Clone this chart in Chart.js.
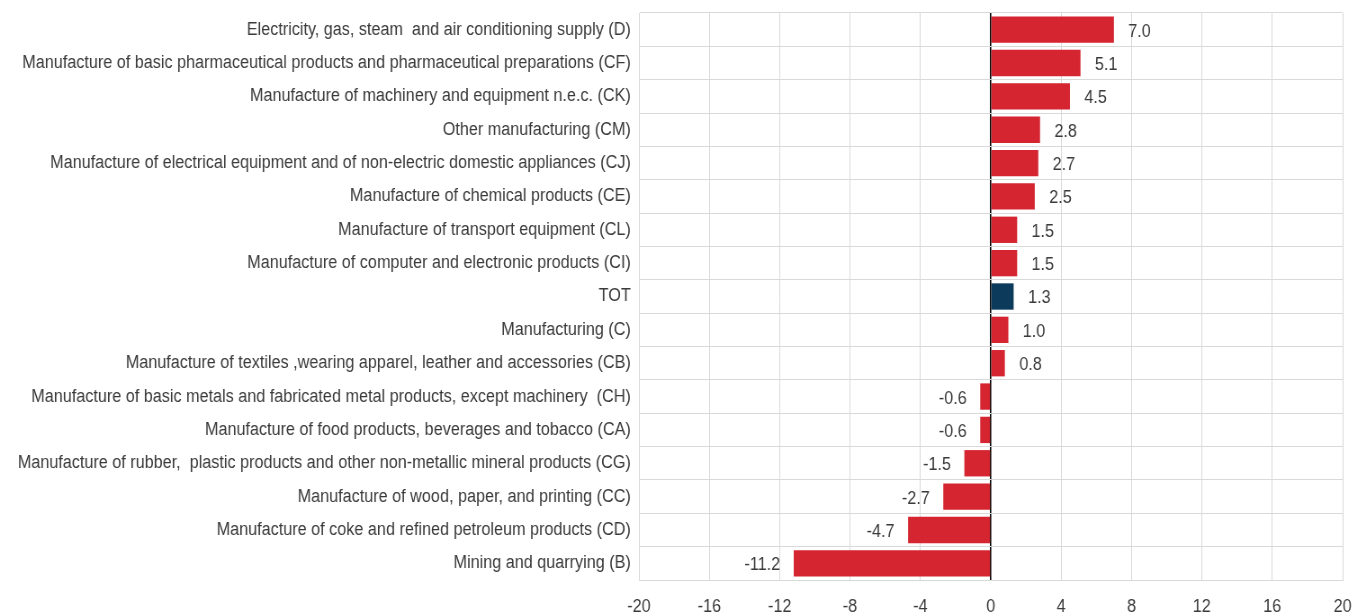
<!DOCTYPE html>
<html>
<head>
<meta charset="utf-8">
<script src="https://cdn.jsdelivr.net/npm/chart.js@4.4.1/dist/chart.umd.min.js"></script>
<style>
html,body{margin:0;padding:0;background:#fff;overflow:hidden;}
#wrap{width:1357px;height:616px;position:relative;overflow:hidden;}
#c{display:block;}
</style>
</head>
<body>
<div id="wrap"><canvas id="c"></canvas></div>
<script>
const categories = [
  "Electricity, gas, steam  and air conditioning supply (D)",
  "Manufacture of basic pharmaceutical products and pharmaceutical preparations (CF)",
  "Manufacture of machinery and equipment n.e.c. (CK)",
  "Other manufacturing (CM)",
  "Manufacture of electrical equipment and of non-electric domestic appliances (CJ)",
  "Manufacture of chemical products (CE)",
  "Manufacture of transport equipment (CL)",
  "Manufacture of computer and electronic products (CI)",
  "TOT",
  "Manufacturing (C)",
  "Manufacture of textiles ,wearing apparel, leather and accessories (CB)",
  "Manufacture of basic metals and fabricated metal products, except machinery  (CH)",
  "Manufacture of food products, beverages and tobacco (CA)",
  "Manufacture of rubber,  plastic products and other non-metallic mineral products (CG)",
  "Manufacture of wood, paper, and printing (CC)",
  "Manufacture of coke and refined petroleum products (CD)",
  "Mining and quarrying (B)"
];
const values = [7.0, 5.1, 4.5, 2.8, 2.7, 2.5, 1.5, 1.5, 1.3, 1.0, 0.8, -0.6, -0.6, -1.5, -2.7, -4.7, -11.2];
const highlight = "TOT";
const xMin = -20, xMax = 20, xStep = 4;

// horizontal condensing factor (reference uses a narrow typeface)
const K = 0.9;
const CW = Math.round(1357 / K), CH = 616;
const cv = document.getElementById('c');
cv.width = CW; cv.height = CH;
cv.style.width = '1357px'; cv.style.height = '616px';

const RED = "#d42531", NAVY = "#0c3a5b";
const FONT = "'Liberation Sans Narrow','Arial Narrow','Liberation Sans',Arial,sans-serif";
const TXT = "#3a3a3a";

const labelPlugin = {
  id: 'valueLabels',
  afterDatasetsDraw(chart) {
    const ctx = chart.ctx;
    const meta = chart.getDatasetMeta(0);
    ctx.save();
    ctx.font = "18px " + FONT;
    ctx.fillStyle = TXT;
    ctx.textBaseline = 'middle';
    meta.data.forEach((bar, i) => {
      const v = values[i];
      const txt = v.toFixed(1);
      if (v >= 0) { ctx.textAlign = 'left'; ctx.fillText(txt, bar.x + 16, bar.y + 2); }
      else { ctx.textAlign = 'right'; ctx.fillText(txt, bar.x - 15, bar.y + 2); }
    });
    ctx.restore();
  }
};

new Chart(cv, {
  type: 'bar',
  data: {
    labels: categories,
    datasets: [{
      data: values,
      backgroundColor: categories.map(c => c === highlight ? NAVY : RED),
      borderWidth: 0,
      categoryPercentage: 1.0,
      barPercentage: 0.79
    }]
  },
  options: {
    indexAxis: 'y',
    responsive: false,
    animation: false,
    devicePixelRatio: 1,
    layout: { padding: { left: 0, right: Math.round(CW - 1343 / K), top: 13, bottom: 0 } },
    plugins: { legend: { display: false }, tooltip: { enabled: false } },
    scales: {
      x: {
        min: xMin, max: xMax,
        ticks: { stepSize: xStep, color: TXT, font: { family: FONT, size: 18 }, padding: 16 },
        grid: {
          drawTicks: false,
          color: (c) => (c.tick && c.tick.value === 0) ? '#000000' : '#d9d9d9',
          lineWidth: (c) => (c.tick && c.tick.value === 0) ? 1.6 : 1
        },
        border: { color: '#d9d9d9' },
        afterFit(s) { s.height = 36; s.paddingLeft = 0; s.paddingRight = 0; }
      },
      y: {
        ticks: { color: TXT, font: { family: FONT, size: 18 }, padding: 9, autoSkip: false },
        grid: { drawTicks: false, color: '#d9d9d9', offset: true },
        border: { color: '#d9d9d9' },
        afterFit(s) { s.width = Math.round(639 / K); s.paddingTop = 0; s.paddingBottom = 0; }
      }
    }
  },
  plugins: [labelPlugin]
});
</script>
</body>
</html>
